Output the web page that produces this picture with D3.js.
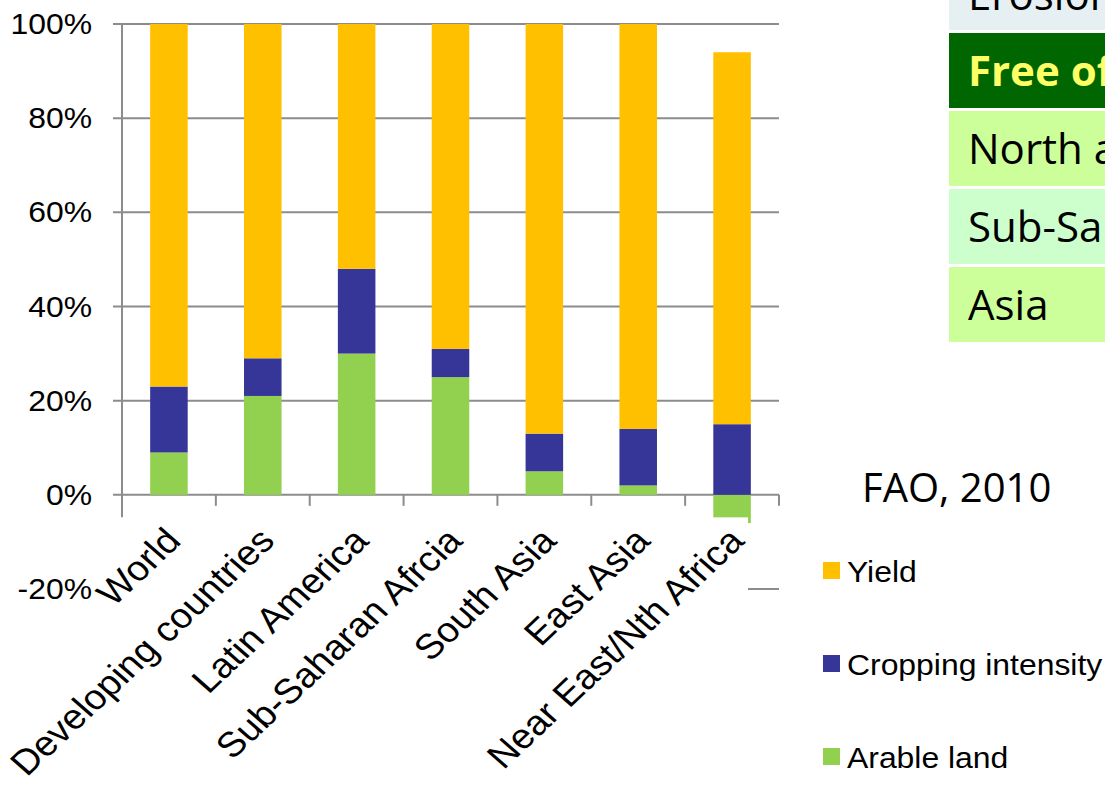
<!DOCTYPE html>
<html>
<head>
<meta charset="utf-8">
<script src="https://cdn.jsdelivr.net/npm/d3@7"></script>
<style>
  body { margin: 0; background: #fff; }
  svg { display: block; }
</style>
</head>
<body>
<div class="chart"></div>
<script>
// data
var categories = ["World", "Developing countries", "Latin America", "Sub-Saharan Afrcia", "South Asia", "East Asia", "Near East/Nth Africa"];
var arable   = [9, 21, 30, 25, 5, 2, -6];
var cropping = [14, 8, 18, 6, 8, 12, 15];
var yieldVal = [77, 71, 52, 69, 87, 86, 79];
var seriesNames = ["Arable land", "Cropping intensity", "Yield"];
var seriesColors = ["#92d050", "#363699", "#ffc000"];
var yTicks = [-20, 0, 20, 40, 60, 80, 100];

var tableLabels = ["Erosion", "Free of", "North a", "Sub-Sah", "Asia"];
var tableFills  = ["#e6f0f2", "#006600", "#ccff99", "#ccffcc", "#ccff99"];
var tableText   = ["#000", "#ffff66", "#000", "#000", "#000"];
var sourceNote  = "FAO, 2010";

var width = 1105, height = 786;
var plot = {left: 122, right: 779, top: 24, bottom: 589};
var sx = 1.1; // picture is a bit stretched sideways

var rows = categories.map(function(c, i) {
  return {cat: c, "Arable land": arable[i], "Cropping intensity": cropping[i], "Yield": yieldVal[i]};
});

var stack = d3.stack()
  .keys(seriesNames)
  .offset(d3.stackOffsetDiverging);
var layers = stack(rows);

var x = d3.scaleBand()
  .domain(categories)
  .range([plot.left, plot.right])
  .paddingInner(0.6)
  .paddingOuter(0.3);

var y = d3.scaleLinear()
  .domain([-20, 100])
  .range([plot.bottom, plot.top]);

var svg = d3.select(".chart").append("svg")
  .attr("width", width)
  .attr("height", height);

// gridlines + y ticks
svg.append("g")
  .selectAll("line")
  .data(yTicks)
  .enter().append("line")
    .attr("x1", plot.left - 9)
    .attr("x2", plot.right)
    .attr("y1", function(d) { return y(d); })
    .attr("y2", function(d) { return y(d); })
    .style("stroke", "#8c8c8c")
    .style("stroke-width", 2);

// bars
svg.append("g")
  .selectAll("g")
  .data(layers)
  .enter().append("g")
    .style("fill", function(d, i) { return seriesColors[i]; })
  .selectAll("rect")
  .data(function(d) { return d; })
  .enter().append("rect")
    .attr("x", function(d) { return x(d.data.cat); })
    .attr("width", x.bandwidth())
    .attr("y", function(d) { return y(Math.max(d[0], d[1])); })
    .attr("height", function(d) { return Math.abs(y(d[0]) - y(d[1])); });

// y axis line
svg.append("line")
  .attr("x1", plot.left).attr("x2", plot.left)
  .attr("y1", plot.top).attr("y2", y(0) + 23)
  .style("stroke", "#8c8c8c")
  .style("stroke-width", 2);

// category tick marks under zero line
var step = x.step();
svg.append("g")
  .selectAll("line")
  .data(categories)
  .enter().append("line")
    .attr("x1", function(d) { return x(d) - x.paddingOuter() * step + step; })
    .attr("x2", function(d) { return x(d) - x.paddingOuter() * step + step; })
    .attr("y1", y(0))
    .attr("y2", y(0) + 11)
    .style("stroke", "#8c8c8c")
    .style("stroke-width", 2);

// white block over the lower part of the plot (as in the slide)
svg.append("rect")
  .attr("x", 98)
  .attr("y", y(0) + 22.5)
  .attr("width", 748 - 98)
  .attr("height", height)
  .style("fill", "#fff");

// y tick labels
svg.append("g")
  .selectAll("text")
  .data(yTicks)
  .enter().append("text")
    .attr("transform", function(d) { return "translate(92," + y(d) + ") scale(" + sx + ",1)"; })
    .attr("dy", "0.35em")
    .attr("text-anchor", "end")
    .style("font-family", "'Liberation Sans', Arial, sans-serif")
    .style("font-size", "29px")
    .text(function(d) { return d + "%"; });

// category labels
svg.append("g")
  .selectAll("text")
  .data(categories)
  .enter().append("text")
    .attr("transform", function(d) {
      return "translate(" + (x(d) + x.bandwidth() / 2 + 4) + ",534) scale(" + sx + ",1) rotate(-46)";
    })
    .attr("dy", "0.35em")
    .attr("text-anchor", "end")
    .style("font-family", "'Liberation Sans', Arial, sans-serif")
    .style("font-size", "35px")
    .text(function(d) { return d; });

// table on the right
var table = svg.append("g");
table.selectAll("rect")
  .data(tableLabels)
  .enter().append("rect")
    .attr("x", 949)
    .attr("y", function(d, i) { return i === 0 ? -45 : 33 + (i - 1) * 78; })
    .attr("width", width - 949)
    .attr("height", 75)
    .style("fill", function(d, i) { return tableFills[i]; });
table.selectAll("text")
  .data(tableLabels)
  .enter().append("text")
    .attr("x", 968)
    .attr("y", function(d, i) { return i === 0 ? 10 : 33 + (i - 1) * 78 + 53; })
    .style("font-family", "'Open Sans', sans-serif")
    .style("font-size", "42px")
    .style("font-weight", function(d, i) { return i === 1 ? "bold" : "normal"; })
    .style("fill", function(d, i) { return tableText[i]; })
    .text(function(d) { return d; });

// source note
svg.append("text")
  .attr("x", 862)
  .attr("y", 502)
  .style("font-family", "'Open Sans', sans-serif")
  .style("font-size", "40px")
  .text(sourceNote);

// legend (top to bottom: Yield, Cropping, Arable)
var legendOrder = [2, 1, 0];
var legend = svg.append("g")
  .selectAll("g")
  .data(legendOrder)
  .enter().append("g")
    .attr("transform", function(d, i) { return "translate(823," + (562 + i * 93) + ")"; });
legend.append("rect")
  .attr("width", 17)
  .attr("height", 17)
  .style("fill", function(d) { return seriesColors[d]; });
legend.append("text")
  .attr("transform", "translate(24,20) scale(" + sx + ",1)")
  .style("font-family", "'Liberation Sans', Arial, sans-serif")
  .style("font-size", "29px")
  .text(function(d) { return seriesNames[d]; });
</script>
</body>
</html>
